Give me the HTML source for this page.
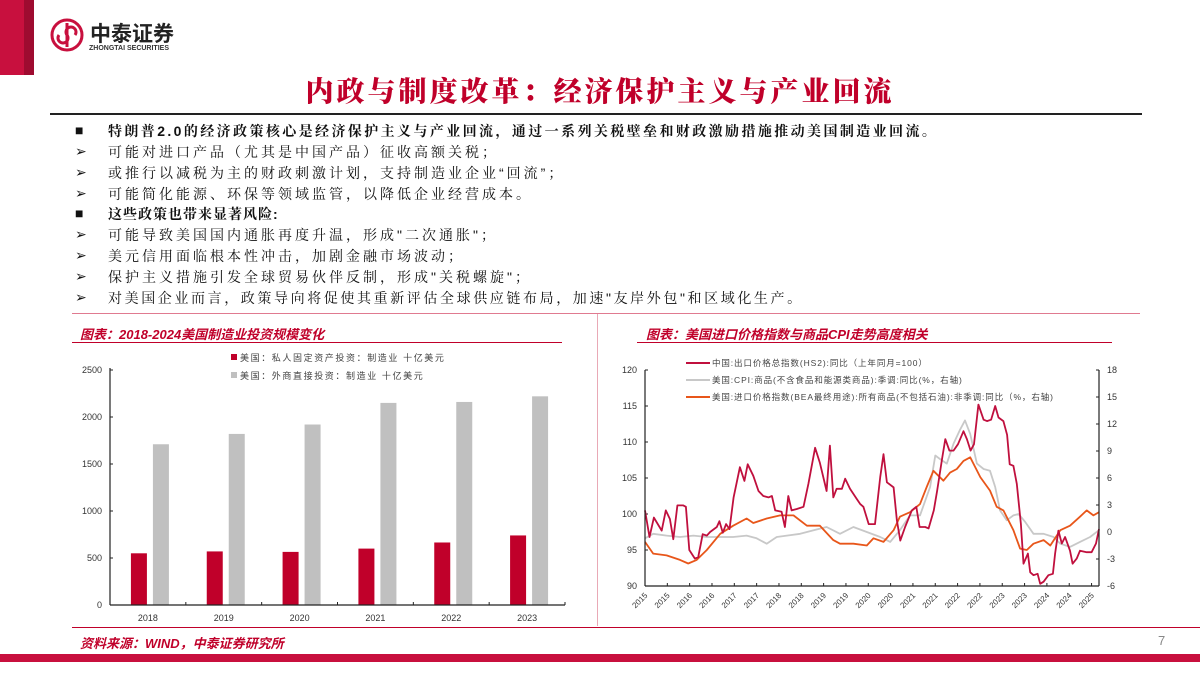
<!DOCTYPE html>
<html><head><meta charset="utf-8">
<style>
body{margin:0;width:1200px;height:675px;overflow:hidden;background:#fff;font-family:"Liberation Sans","Noto Serif CJK SC","Noto Sans CJK SC",serif;position:relative}
.abs{position:absolute}
.bl{position:absolute;left:75px;font-size:14px;color:#111;white-space:nowrap}
.bl span{position:absolute;left:33px;top:-1px;letter-spacing:3px}
.ct{position:absolute;font-size:13px;font-weight:bold;font-style:italic;color:#c0002a;font-family:"Liberation Sans","Noto Sans CJK SC",sans-serif}
svg text{font-family:"Liberation Sans","Noto Sans CJK SC",sans-serif}
</style></head><body>
<div class="abs" style="left:0;top:0;width:24px;height:75px;background:#c8103e"></div>
<div class="abs" style="left:24px;top:0;width:10px;height:75px;background:#9e0b30"></div>
<svg class="abs" style="left:50px;top:18px" width="36" height="36"><circle cx="17" cy="17" r="15" fill="none" stroke="#c8103e" stroke-width="3"/><path d="M17 5v24M9 17a5 5 0 1 0 8 0a5 5 0 1 1 8 0" fill="none" stroke="#c8103e" stroke-width="3"/></svg>
<div class="abs" style="left:90px;top:18px;font-size:21px;font-weight:bold;color:#222;font-family:'Noto Sans CJK SC',sans-serif">中泰证券</div>
<div class="abs" style="left:89px;top:45px;font-size:7px;font-weight:bold;color:#333">ZHONGTAI SECURITIES</div>
<div class="abs" style="left:0;width:1200px;top:70px;text-align:center;font-size:28px;font-weight:900;color:#c0002a;letter-spacing:3px;font-family:'Noto Serif CJK SC',serif">内政与制度改革：经济保护主义与产业回流</div>
<div class="abs" style="left:50px;top:113px;width:1092px;height:2px;background:#222"></div>

<div class="bl" style="top:122px;font-weight:bold">■<span style="letter-spacing:2.4px">特朗普2.0的经济政策核心是经济保护主义与产业回流，通过一系列关税壁垒和财政激励措施推动美国制造业回流。</span></div>
<div class="bl" style="top:143px">➢<span>可能对进口产品（尤其是中国产品）征收高额关税；</span></div>
<div class="bl" style="top:164px">➢<span>或推行以减税为主的财政刺激计划，支持制造业企业“回流”；</span></div>
<div class="bl" style="top:185px">➢<span>可能简化能源、环保等领域监管，以降低企业经营成本。</span></div>
<div class="bl" style="top:205px;font-weight:bold">■<span style="letter-spacing:1px">这些政策也带来显著风险:</span></div>
<div class="bl" style="top:226px">➢<span>可能导致美国国内通胀再度升温，形成"二次通胀"；</span></div>
<div class="bl" style="top:247px">➢<span>美元信用面临根本性冲击，加剧金融市场波动；</span></div>
<div class="bl" style="top:268px">➢<span>保护主义措施引发全球贸易伙伴反制，形成"关税螺旋"；</span></div>
<div class="bl" style="top:289px">➢<span style="letter-spacing:2.6px">对美国企业而言，政策导向将促使其重新评估全球供应链布局，加速"友岸外包"和区域化生产。</span></div>
<div class="abs" style="left:72px;top:313px;width:1068px;height:1px;background:#e07a90"></div>
<div class="abs" style="left:597px;top:314px;width:1px;height:312px;background:#e9a9b6"></div>

<div class="ct" style="left:80px;top:324px">图表：2018-2024美国制造业投资规模变化</div>
<div class="abs" style="left:72px;top:342px;width:490px;height:1px;background:#c0002a"></div>
<div class="ct" style="left:646px;top:324px">图表：美国进口价格指数与商品CPI走势高度相关</div>
<div class="abs" style="left:637px;top:342px;width:475px;height:1px;background:#c0002a"></div>

<svg id="bar" class="abs" style="left:0;top:0" width="600" height="675"></svg>
<svg id="line" class="abs" style="left:0;top:0" width="1200" height="675"></svg>

<div class="abs" style="left:72px;top:627px;width:1128px;height:1px;background:#c0002a"></div>
<div class="ct" style="left:80px;top:633px">资料来源：WIND，中泰证券研究所</div>
<div class="abs" style="left:1158px;top:633px;font-size:13px;color:#888">7</div>
<div class="abs" style="left:0;top:654px;width:1200px;height:8px;background:#c8103e"></div>

<script>
const barCats=["2018","2019","2020","2021","2022","2023"];
const barRed=[550,570,565,600,665,740];
const barGray=[1710,1820,1920,2150,2160,2220];
const barTicks=[0,500,1000,1500,2000,2500];

const months=[0,1.2,2.4,4.5,5.6,6.7,7.6,8.7,10.3,11,11.9,13.4,14.3,15.5,16.6,17.5,19.3,20,20.9,21.8,22.7,23.8,25.5,26.7,27.6,29.1,30.5,31.8,33.2,34.1,35,36.7,37.6,38.5,39.4,40.8,42.6,43.9,45.7,47,48.8,49.7,50.6,51.5,52.9,53.8,55.1,56.9,57.8,58.7,60.1,61.8,63.2,64.1,65,66.8,67.7,68.6,69.9,71.7,72.9,73.8,75.3,76.2,77.6,78.5,79.8,80.7,81.8,82.9,84.1,85.6,86.5,87.5,88.4,89.6,91,91.9,93,94.1,95,96.3,97.3,98,99,99.9,101,101.7,102.9,103.5,104.4,105.5,106.2,107.1,108.4,109.6,110.2,111.1,112,112.9,114.2,114.9,116,116.9,118.7,120,121.2,122];
const chinaExport=[100.5,96.8,99.5,97.7,100.5,99.3,96.5,101.2,101.2,101,95,93.8,94,97.2,97,97.5,98.2,99,97.4,98.6,97.9,102.3,106.5,104.6,106.9,105.3,103.2,102.5,102.3,102.5,100.5,100.3,98.2,102.5,100.5,100.7,101,104.2,109.2,107.1,103.2,109.5,102.3,103.5,103.5,104.9,103.5,102.1,101.4,101,98.6,98.6,105.1,108.3,104.4,103.7,99.1,96.3,98.2,100.5,101,98.2,98.2,98,100.5,103.2,107.6,110.4,108.8,108.8,109.7,111.5,110.4,108.8,109.7,115.2,113.1,112.9,113.1,115,113.4,112.9,111,106.9,106.7,104.2,98.6,93.1,94.5,91.9,91.5,91.7,90.3,90.6,91.5,91.7,94.5,97.7,95.9,96.8,94.9,93.1,93.8,94.9,94.7,94.7,95.9,97.9];
const monthsB=[0,2.2,5.8,9.4,13,16.6,20.2,23.7,27.3,30,32.7,35.4,38.1,41.7,45.3,48.8,52.4,56,59.6,63.2,65.9,68.5,71.2,73.9,76.6,78,79.3,81.1,82.9,84.7,86,87.4,89.2,91,92.7,94.1,95.4,97.2,99,100.4,102.2,104.4,107.1,109.8,111.6,114.2,116.9,119.6,122];
const usCPI=[-0.7,-0.2,-0.4,-0.55,-0.4,-0.55,-0.55,-0.55,-0.4,-0.7,-1.3,-0.55,-0.4,-0.2,0.2,0.55,-0.2,0.55,0,-0.55,-1.1,0.2,1.85,1.85,5,8.5,8.1,7.6,9.8,11.4,12.4,10.9,7.6,7.0,6.8,5,2.4,1.3,1.85,2.0,1.1,-0.2,-0.2,-0.55,-1.3,-1.65,-1.1,-0.55,0.2];
const monthsC=[0,2.2,5.8,9.4,11.6,13.9,16.6,20.2,23.7,27.3,29.1,32.7,36.3,39.9,43.5,47,50.6,52.4,56,59.6,61.4,64.1,66.8,68.5,71.2,73.9,75.7,77.5,80.2,82,83.8,85.6,87.4,90.1,92.7,94.5,96.3,99,100.8,102.6,104.4,107.1,108.9,111.6,114.2,116.9,118.7,120.5,122];
const usImport=[-1.1,-2.4,-2.6,-3.1,-3.5,-3.1,-2.0,-0.2,0.7,1.5,1.0,1.5,1.85,1.85,0.7,0.7,-0.9,-1.3,-1.3,-1.5,-0.7,-1.1,0.2,1.7,2.2,3.1,5,6.8,5.7,6.6,7.0,7.9,8.3,6.1,4.6,2.8,2.4,0.2,-1.85,-2.0,-1.3,-0.9,-1.5,0.2,0.7,1.7,2.4,1.85,2.2];
const leftTicks=[90,95,100,105,110,115,120];
const rightTicks=[-6,-3,0,3,6,9,12,15,18];
const xLabels=["2015","2015","2016","2016","2017","2017","2018","2018","2019","2019","2020","2020","2021","2021","2022","2022","2023","2023","2024","2024","2025"];

const NS="http://www.w3.org/2000/svg";
function mk(svg,tag,attrs,txt){const e=document.createElementNS(NS,tag);for(const k in attrs)e.setAttribute(k,attrs[k]);if(txt!==undefined)e.textContent=txt;svg.appendChild(e);return e;}

(function(){
const s=document.getElementById('bar');
const x0=110,x1=565,y0=605,y1=370;
const yS=v=>y0-(v/2500)*(y0-y1);
const bw=(x1-x0)/barCats.length;
barTicks.forEach(t=>{
 const e=mk(s,'text',{x:x0-8,y:yS(t)+3,'font-size':9,'text-anchor':'end',fill:'#333'},t);
 
 
 mk(s,'line',{x1:x0,x2:x0+3,y1:yS(t),y2:yS(t),stroke:'#222'});
});
barCats.forEach((c,i)=>{
 const cx=x0+bw*(i+0.5);
 const r=mk(s,'rect',{x:cx-17,y:yS(barRed[i]),width:16,height:y0-yS(barRed[i]),fill:'#c0002a'});
 
 
 const g=mk(s,'rect',{x:cx+5,y:yS(barGray[i]),width:16,height:y0-yS(barGray[i]),fill:'#c0c0c0'});
 
 
 const t=mk(s,'text',{x:cx,y:y0+16,'font-size':9,'text-anchor':'middle',fill:'#333'},c);
 
 
 mk(s,'line',{x1:x0+bw*(i+1),x2:x0+bw*(i+1),y1:y0,y2:y0-3,stroke:'#222'});
});
mk(s,'line',{x1:x0,x2:x0,y1:y1-2,y2:y0,stroke:'#222','stroke-width':1.2});
mk(s,'line',{x1:x0,x2:x1,y1:y0,y2:y0,stroke:'#222','stroke-width':1.2});
const l1=mk(s,'rect',{x:231,y:354,width:6,height:6,fill:'#c0002a'});


mk(s,'text',{x:240,y:361,'font-size':9,fill:'#444','letter-spacing':1.6},'美国：私人固定资产投资：制造业 十亿美元');
const l2=mk(s,'rect',{x:231,y:372,width:6,height:6,fill:'#c0c0c0'});


mk(s,'text',{x:240,y:379,'font-size':9,fill:'#444','letter-spacing':1.6},'美国：外商直接投资：制造业 十亿美元');
})();

(function(){
const s=document.getElementById('line');
const x0=645,x1=1099,y0=586,y1=370;
const xS=m=>x0+(m/122)*(x1-x0);
const yL=v=>y0-(v-90)/30*(y0-y1);
const yR=v=>y0-(v+6)/24*(y0-y1);
leftTicks.forEach(t=>{
 const e=mk(s,'text',{x:x0-8,y:yL(t)+3,'font-size':9,'text-anchor':'end',fill:'#333'},t);
 
 
 mk(s,'line',{x1:x0,x2:x0+3,y1:yL(t),y2:yL(t),stroke:'#222'});
});
rightTicks.forEach(t=>{
 const e=mk(s,'text',{x:x1+8,y:yR(t)+3,'font-size':9,fill:'#333'},t);
 
 
 mk(s,'line',{x1:x1,x2:x1-3,y1:yR(t),y2:yR(t),stroke:'#222'});
});
xLabels.forEach((l,i)=>{
 const x=xS(i*6);
 mk(s,'line',{x1:x,x2:x,y1:y0,y2:y0-3,stroke:'#222'});
 const e=mk(s,'text',{x:x+3,y:y0+10,'font-size':8,'text-anchor':'end',fill:'#333',transform:`rotate(-45 ${x+3} ${y0+10})`},l);
 
 
});
function path(xs,ys,f,col,name){
 const d=xs.map((m,i)=>(i?'L':'M')+xS(m).toFixed(1)+' '+f(ys[i]).toFixed(1)).join(' ');
 const p=mk(s,'path',{d:d,fill:'none',stroke:col,'stroke-width':1.8,'stroke-linejoin':'round'});
 
 
}
path(monthsB,usCPI,yR,'#c8c8c8','series-us-cpi');
path(monthsC,usImport,yR,'#e8561a','series-us-import-price');
path(months,chinaExport,yL,'#c0103e','series-china-export-price');
mk(s,'line',{x1:x0,x2:x0,y1:y1,y2:y0,stroke:'#222','stroke-width':1.2});
mk(s,'line',{x1:x1,x2:x1,y1:y1,y2:y0,stroke:'#222','stroke-width':1.2});
mk(s,'line',{x1:x0,x2:x1,y1:y0,y2:y0,stroke:'#222','stroke-width':1.2});
const leg=[['#c0103e','中国:出口价格总指数(HS2):同比（上年同月=100）'],['#c8c8c8','美国:CPI:商品(不含食品和能源类商品):季调:同比(%，右轴)'],['#e8561a','美国:进口价格指数(BEA最终用途):所有商品(不包括石油):非季调:同比（%，右轴)']];
leg.forEach((l,i)=>{
 const y=363+i*17;
 const ln=mk(s,'line',{x1:686,x2:710,y1:y,y2:y,stroke:l[0],'stroke-width':2});
 
 
 const t=mk(s,'text',{x:712,y:y+3,'font-size':8.5,fill:'#444','letter-spacing':0.9},l[1]);
 
 
});
})();
</script>
</body></html>
